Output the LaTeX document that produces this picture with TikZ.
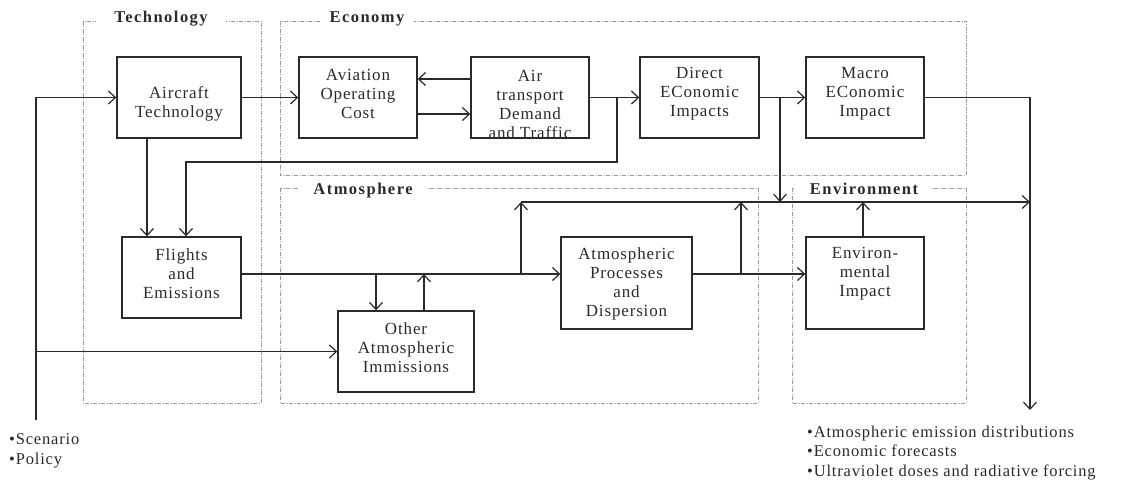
\documentclass[tikz,border=0pt]{standalone}
\usepackage{fontspec}
\setmainfont{Liberation Serif}[LetterSpace=5]
\usetikzlibrary{arrows.meta,calc}
\definecolor{ink}{HTML}{2A2A2A}
\definecolor{grp}{HTML}{9A9A9A}
\begin{document}
\begin{tikzpicture}[x=1pt,y=-1pt,
  box/.style={draw=ink,line width=1.4pt,minimum height=81pt,inner sep=0pt},
  txt/.style={align=center,text=ink,font=\fontsize{17}{19}\selectfont,inner sep=0pt},
  grpbox/.style={draw=grp,line width=0.6pt,dash pattern=on 4pt off 1.5pt on 1pt off 1.5pt},
  title/.style={fill=white,text=ink,font=\fontsize{16.5}{18}\bfseries\addfontfeatures{LetterSpace=9}\selectfont,inner xsep=10pt,inner ysep=1pt},
  arr/.style={draw=ink,line width=1.4pt,-{Straight Barb[length=7pt,width=13pt,line width=1.2pt]}},
  note/.style={align=left,text=ink,font=\fontsize{16.5}{19.5}\selectfont,inner sep=0pt,anchor=west}]
\useasboundingbox (0,0) rectangle (1122,481);
% groups
\draw[grpbox] (83,21) rectangle (261,403);
\draw[grpbox] (280,21) rectangle (966,175);
\draw[grpbox] (280,188) rectangle (758,403);
\draw[grpbox] (792,188) rectangle (966,403);
\node[title,inner xsep=18pt] (tTech) at (161,19) {Technology};
\node[title] (tEco) at (367,19) {Economy};
\node[title,inner xsep=14pt] (tAtm) at (363,191) {Atmosphere};
\node[title,inner xsep=14pt] (tEnv) at (864,189) {Environment};
% boxes
\node[box,minimum width=124pt] (at) at (179,97.5) {};
\node[box,minimum width=118pt] (aoc) at (358,97.5) {};
\node[box,minimum width=118pt] (atd) at (530,97.5) {};
\node[box,minimum width=119pt] (dei) at (699.5,97.5) {};
\node[box,minimum width=118pt] (mei) at (865,97.5) {};
\node[box,minimum width=119pt] (fe) at (181.5,277.5) {};
\node[box,minimum width=136pt] (oai) at (406,351.5) {};
\node[box,minimum width=131pt,minimum height=92pt] (apd) at (626.5,283) {};
\node[box,minimum width=118pt,minimum height=92pt] (ei) at (865,283) {};
% texts
\node[txt] (at-t) at (179,104) {Aircraft\\Technology};
\node[txt] (aoc-t) at (358,94) {Aviation\\Operating\\Cost};
\node[txt] (atd-t) at (530,104) {Air\\transport\\Demand\\and Traffic};
\node[txt] (dei-t) at (699.5,94) {Direct\\EConomic\\Impacts};
\node[txt] (mei-t) at (865,94) {Macro\\EConomic\\Impact};
\node[txt] (fe-t) at (181.5,274) {Flights\\and\\Emissions};
\node[txt] (oai-t) at (406,348) {Other\\Atmospheric\\Immissions};
\node[txt] (apd-t) at (626.5,284) {Atmospheric\\Processes\\and\\Dispersion};
\node[txt] (ei-t) at (865,274) {Environ-\\mental\\Impact};
% helper coordinates
\coordinate (in0) at (36,420);
\coordinate (x147) at (147,0);
\coordinate (x186) at (186,0);
\coordinate (x617) at (617,0);
\coordinate (x780) at (780,0);
\coordinate (x376) at (376,0);
\coordinate (x424) at (424,0);
\coordinate (x521) at (521,0);
\coordinate (x741) at (741,0);
\coordinate (x863) at (863,0);
\coordinate (x1030) at (1030,0);
\coordinate (y79) at (0,79);
\coordinate (y114) at (0,114);
\coordinate (y162) at (0,162);
\coordinate (y202) at (0,202);
\coordinate (y274) at (0,274);
\coordinate (out) at (1030,410);
% connectors
\draw[arr] (in0) |- (at.west);
\draw[arr] (in0 |- oai.west) -- (oai.west);
\draw[arr] (at) -- (aoc);
\draw[arr] (at.south -| x147) -- (fe.north -| x147);
\draw[arr] (atd.west |- y79) -- (aoc.east |- y79);
\draw[arr] (aoc.east |- y114) -- (atd.west |- y114);
\draw[arr] (atd) -- (dei);
\draw[arr] (x617 |- atd.east) -- (x617 |- y162) -- (x186 |- y162) -- (fe.north -| x186);
\draw[arr] (dei) -- (mei);
\draw[arr] (x780 |- dei.east) -- (x780 |- y202);
\draw[arr] (mei.east) -- (x1030 |- mei.east) -- (out);
\draw[arr] (x521 |- y202) -- (x1030 |- y202);
\draw[arr] (fe.east |- y274) -- (apd.west |- y274);
\draw[arr] (x376 |- y274) -- (oai.north -| x376);
\draw[arr] (oai.north -| x424) -- (x424 |- y274);
\draw[arr] (x521 |- y274) -- (x521 |- y202);
\draw[arr] (apd.east |- y274) -- (ei.west |- y274);
\draw[arr] (x741 |- y274) -- (x741 |- y202);
\draw[arr] (ei.north -| x863) -- (x863 |- y202);
% notes
\node[note] (n1) at (9,451) {•Scenario\\•Policy};
\node[note] (n2) at (807,453) {•Atmospheric emission distributions\\•Economic forecasts\\•Ultraviolet doses and radiative forcing};
\end{tikzpicture}
\end{document}
